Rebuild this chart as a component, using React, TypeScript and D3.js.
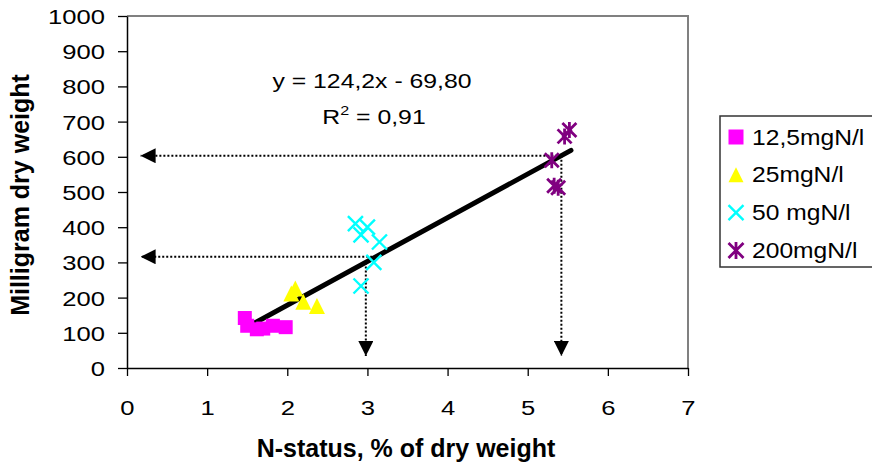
import { useEffect, useRef } from "react";
import * as d3 from "d3";

// Series (x = N-status %, y = mg dry weight)
const n125 = [[1.47, 142], [1.5, 120], [1.62, 110], [1.7, 112], [1.82, 120], [1.98, 116]];
const n25 = [[2.05, 212], [2.1, 226], [2.2, 188], [2.37, 176]];
const n50 = [[2.85, 410], [3.0, 400], [2.92, 378], [3.15, 358], [3.08, 300], [2.92, 233]];
const n200 = [[5.52, 676], [5.46, 658], [5.3, 590], [5.33, 518], [5.38, 512]];

const seriesNames = ["12,5mgN/l", "25mgN/l", "50 mgN/l", "200mgN/l"];
const seriesColors = ["#ff00ff", "#ffff00", "#00ffff", "#800080"];
const seriesShapes = ["square", "triangle", "cross", "star"];

const xTicks = [0, 1, 2, 3, 4, 5, 6, 7];
const yTicks = [0, 100, 200, 300, 400, 500, 600, 700, 800, 900, 1000];

// trend line y = 124.2x - 69.8 over the data range
const slope = 124.2;
const intercept = -69.8;
const trendRange = [1.48, 5.54];

// read-off guides
const hGuides = [[316, 3.06], [603, 5.42]]; // [y value, x start]
const vGuides = [[2.98, 300], [5.42, 603]]; // [x value, y start]
const arrowTipX = 0.17;
const arrowTipY = 34;

const W = 872;
const H = 470;
const FONT = "'Liberation Sans', Arial, sans-serif";

export default function App() {
  const svgRef = useRef<SVGSVGElement>(null);

  useEffect(() => {
    if (!svgRef.current) return;
    const svg = d3.select(svgRef.current);
    svg.selectAll("*").remove();

    const left = 127, right = 688, top = 16, bottom = 368;
    const x = d3.scaleLinear().domain([0, 7]).range([left, right]);
    const y = d3.scaleLinear().domain([0, 1000]).range([bottom, top]);

    svg.append("rect").attr("width", W).attr("height", H).attr("fill", "#fff");

    // stretched text helper (the original chart was scaled wider than tall)
    const label = (g: any, tx: number, ty: number, s: string, size: number, sx: number, anchor = "start") =>
      g.append("text")
        .attr("transform", `translate(${tx},${ty}) scale(${sx},1)`)
        .attr("text-anchor", anchor)
        .attr("font-family", FONT).attr("font-size", size).attr("fill", "#000")
        .text(s);

    // plot frame: gray top/right, black axes
    svg.append("path")
      .attr("d", `M${left},${top}H${right}V${bottom}`)
      .attr("fill", "none").attr("stroke", "#808080").attr("stroke-width", 2);

    const yAxis = svg.append("g").attr("transform", `translate(${left},0)`)
      .call(d3.axisLeft(y).tickValues(yTicks).tickSize(9).tickSizeOuter(0).tickFormat(d3.format("d")));
    const xAxis = svg.append("g").attr("transform", `translate(0,${bottom})`)
      .call(d3.axisBottom(x).tickValues(xTicks).tickSize(8).tickSizeOuter(0).tickFormat(d3.format("d")));
    [xAxis, yAxis].forEach((a) => {
      a.select(".domain").attr("stroke", "#000").attr("stroke-width", 1.5);
      a.selectAll(".tick line").attr("stroke", "#000").attr("stroke-width", 1.3);
      a.selectAll("text").attr("font-family", FONT).attr("font-size", 21).attr("fill", "#000");
    });
    yAxis.selectAll("text").attr("x", -22 / 1.22).attr("dy", "0.36em").attr("transform", "scale(1.22,1)");
    xAxis.selectAll("text").attr("y", 47).attr("dy", 0).attr("transform", "scale(1.22,1)");

    // guide arrows
    const defs = svg.append("defs");
    defs.append("marker").attr("id", "arr")
      .attr("viewBox", "0 0 10 10").attr("refX", 10).attr("refY", 5)
      .attr("markerWidth", 15).attr("markerHeight", 15).attr("markerUnits", "userSpaceOnUse")
      .attr("orient", "auto")
      .append("path").attr("d", "M0,0L10,5L0,10Z").attr("fill", "#000");

    hGuides.forEach(([gy, gx]) => {
      svg.append("line")
        .attr("x1", x(gx)).attr("y1", y(gy)).attr("x2", x(arrowTipX)).attr("y2", y(gy))
        .attr("stroke", "#000").attr("stroke-width", 2).attr("stroke-dasharray", "2,2")
        .attr("marker-end", "url(#arr)");
    });
    vGuides.forEach(([gx, gy]) => {
      svg.append("line")
        .attr("x1", x(gx)).attr("y1", y(gy)).attr("x2", x(gx)).attr("y2", y(arrowTipY))
        .attr("stroke", "#000").attr("stroke-width", 2).attr("stroke-dasharray", "2,2")
        .attr("marker-end", "url(#arr)");
    });

    // trend line
    svg.append("line")
      .attr("x1", x(trendRange[0])).attr("y1", y(slope * trendRange[0] + intercept))
      .attr("x2", x(trendRange[1])).attr("y2", y(slope * trendRange[1] + intercept))
      .attr("stroke", "#000").attr("stroke-width", 5).attr("stroke-linecap", "round");

    const drawMarker = (g: any, shape: string, color: string, cx: number, cy: number, s: number) => {
      const r = s / 2;
      if (shape === "square") {
        g.append("rect").attr("x", cx - r).attr("y", cy - r)
          .attr("width", s).attr("height", s).attr("fill", color);
      } else if (shape === "triangle") {
        g.append("path")
          .attr("d", `M${cx},${cy - r}L${cx + r},${cy + r}L${cx - r},${cy + r}Z`)
          .attr("fill", color);
      } else if (shape === "cross") {
        g.append("path")
          .attr("d", `M${cx - r},${cy - r}L${cx + r},${cy + r}M${cx - r},${cy + r}L${cx + r},${cy - r}`)
          .attr("stroke", color).attr("stroke-width", 2.4).attr("fill", "none");
      } else {
        g.append("path")
          .attr("d", `M${cx - r},${cy - r}L${cx + r},${cy + r}M${cx - r},${cy + r}L${cx + r},${cy - r}M${cx},${cy - r - 1}L${cx},${cy + r + 1}`)
          .attr("stroke", color).attr("stroke-width", 2.8).attr("fill", "none");
      }
    };

    const markerSize = [14, 16, 15, 14];
    const allSeries = [n125, n25, n50, n200];
    allSeries.forEach((pts, i) => {
      const g = svg.append("g");
      pts.forEach(([px, py]) => drawMarker(g, seriesShapes[i], seriesColors[i], x(px), y(py), markerSize[i]));
    });

    // equation
    label(svg, 372, 88, "y = 124,2x - 69,80", 20, 1.24, "middle");
    const r2 = label(svg, 374, 124, "", 20, 1.24, "middle");
    r2.append("tspan").text("R");
    r2.append("tspan").attr("font-size", 13).attr("dy", -9).text("2");
    r2.append("tspan").attr("dy", 9).text(" = 0,91");

    // axis titles
    svg.append("text").attr("x", 406).attr("y", 457).attr("text-anchor", "middle")
      .attr("font-family", FONT).attr("font-size", 25).attr("font-weight", "bold")
      .text("N-status, % of dry weight");
    svg.append("text").attr("transform", "translate(29,195) rotate(-90)").attr("text-anchor", "middle")
      .attr("font-family", FONT).attr("font-size", 25).attr("font-weight", "bold")
      .text("Milligram dry weight");

    // legend
    const lg = svg.append("g");
    lg.append("rect").attr("x", 720).attr("y", 116).attr("width", 170).attr("height", 151)
      .attr("fill", "#fff").attr("stroke", "#333").attr("stroke-width", 1.5);
    seriesNames.forEach((name, i) => {
      const cy = 137 + i * 37.8;
      drawMarker(lg, seriesShapes[i], seriesColors[i], 736, cy, 15);
      label(lg, 752, cy + 7.5, name, 22, 1.12);
    });
  }, []);

  return (
    <svg
      ref={svgRef}
      width={W}
      height={H}
      style={{ position: "absolute", left: 0, top: 0, display: "block" }}
    />
  );
}
